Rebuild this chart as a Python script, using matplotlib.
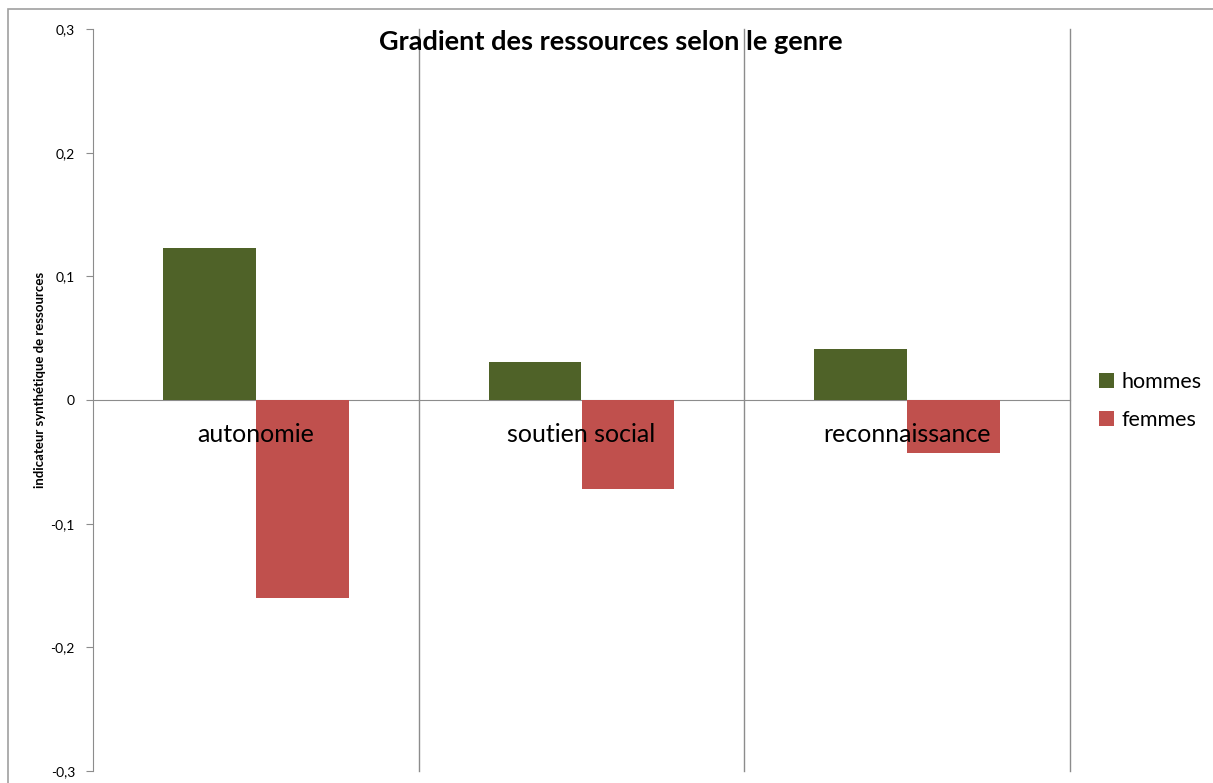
import numpy as np
import matplotlib.pyplot as plt
from matplotlib.patches import Rectangle

# ── Données ───────────────────────────────────
categories = ['autonomie', 'soutien social', 'reconnaissance']
hommes = [0.123, 0.031, 0.041]
femmes = [-0.160, -0.072, -0.043]
yticks = [-0.3, -0.2, -0.1, 0, 0.1, 0.2, 0.3]
ytick_labels = ['-0,3', '-0,2', '-0,1', '0', '0,1', '0,2', '0,3']

plt.rcParams['font.family'] = ['Lato', 'DejaVu Sans']
grey = '#8c8c8c'

fig = plt.figure(figsize=(12.13, 7.83), dpi=100)
ax = fig.add_axes([93/1213, 1 - 771/783, (1070 - 93)/1213, (771 - 29)/783])

x = np.arange(len(categories))
w = 0.285
ax.bar(x - w/2, hommes, w, color='#4F6228', label='hommes', zorder=3)
ax.bar(x + w/2, femmes, w, color='#C0504D', label='femmes', zorder=3)

ax.set_xlim(-0.5, len(categories) - 0.5)
ax.set_ylim(-0.3, 0.3)

# séparateurs verticaux entre catégories
for b in np.arange(0.5, len(categories), 1.0):
    ax.axvline(b, color=grey, lw=1, zorder=1, clip_on=False)

# axe des catégories sur le zéro
for s in ['top', 'right']:
    ax.spines[s].set_visible(False)
ax.spines['bottom'].set_position(('data', 0))
ax.spines['bottom'].set_color(grey)
ax.spines['left'].set_color(grey)
ax.set_xticks([])
# étiquettes par-dessus les barres
for xi, cat in zip(x, categories):
    ax.annotate(cat, (xi, 0), xytext=(0, -25), textcoords='offset points',
                ha='center', va='center', fontsize=18, zorder=5)

ax.set_yticks(yticks)
ax.set_yticklabels(ytick_labels, fontsize=10)
ax.tick_params(axis='y', length=5, color=grey, pad=8)
ax.set_ylabel('indicateur synthétique de ressources', fontsize=9.5,
              fontweight='bold', va='center')
ax.yaxis.set_label_coords(-0.054, 0.527)

fig.text(611/1213, 1 - 42/783, 'Gradient des ressources selon le genre',
         ha='center', va='center', fontsize=19.5, fontweight='bold')

leg = fig.legend(loc='center left', bbox_to_anchor=(1080/1213, 1 - 401/783),
                 frameon=False, fontsize=15.5, handlelength=0.7, handleheight=0.7,
                 handletextpad=0.35, labelspacing=0.85)

# cadre du graphique
fig.patches.append(Rectangle((8/1213, -0.1), 1.2, 1 - 9/783 + 0.1,
                             transform=fig.transFigure, fill=False,
                             edgecolor='#a0a0a0', lw=1.2))

fig.savefig('out.png', dpi=100)
